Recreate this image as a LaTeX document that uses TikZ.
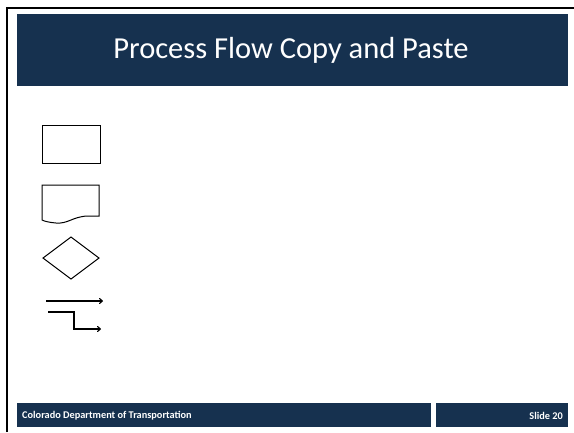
\documentclass[tikz,border=0pt]{standalone}
\usepackage{fontspec}
\setmainfont{Carlito}
\usetikzlibrary{arrows.meta}
\definecolor{navy}{RGB}{22,49,79}
\tikzset{
  bar/.style={fill=navy, draw=none},
  shapeline/.style={draw=black, line width=1pt},
  flowarrow/.style={draw=black, line width=1.1pt, -{To[length=4pt,width=6pt]}},
  titletext/.style={text=white, font=\fontsize{30.5}{34}\selectfont, inner sep=0pt},
  foottext/.style={text=white, font=\fontsize{10.3}{12}\selectfont\bfseries, inner sep=0pt}
}
\begin{document}
\begin{tikzpicture}[x=1pt,y=-1pt]
\useasboundingbox (0,0) rectangle (574,432);
\fill[white] (0,0) rectangle (574,432);
% frame
\draw[line width=2.2pt] (7,432) -- (7,8) -- (574,8);
% title bar
\path[bar] (17,14) rectangle (568,86);
\node[titletext] (title) at (291,50) {Process Flow Copy and Paste};
% footer bars
\path[bar] (17,403) rectangle (431,427);
\path[bar] (436,403) rectangle (568,427);
\node[foottext, anchor=west] (org) at (22,415.5) {Colorado Department of Transportation};
\node[foottext, anchor=east] (slide) at (563,415.5) {Slide 20};
% process box
\node[shapeline, minimum width=58pt, minimum height=38pt, inner sep=0pt] (proc) at (71,144) {};
% document shape
\coordinate (docTL) at (42,185);
\draw[shapeline, line join=miter] (42,220) -- (docTL) -- (99,185) -- (99,216) -- (87,216)
  .. controls (72,217) and (68,224) .. (56,223)
  .. controls (50,222.5) and (45,221.5) .. (42,220) -- cycle;
% decision diamond
\coordinate (dL) at (43,258);
\coordinate (dT) at (71,237);
\coordinate (dR) at (99,258);
\coordinate (dB) at (71,279);
\draw[shapeline] (dL) -- (dT) -- (dR) -- (dB) -- cycle;
% straight arrow
\coordinate (a1s) at (46,301);
\coordinate (a1e) at (103,301);
\draw[flowarrow] (a1s) -- (a1e);
% elbow arrow
\coordinate (a2s) at (48,312);
\coordinate (a2m) at (74,329);
\coordinate (a2e) at (101,329);
\draw[flowarrow] (a2s) -| (a2m) -- (a2e);
\end{tikzpicture}
\end{document}
